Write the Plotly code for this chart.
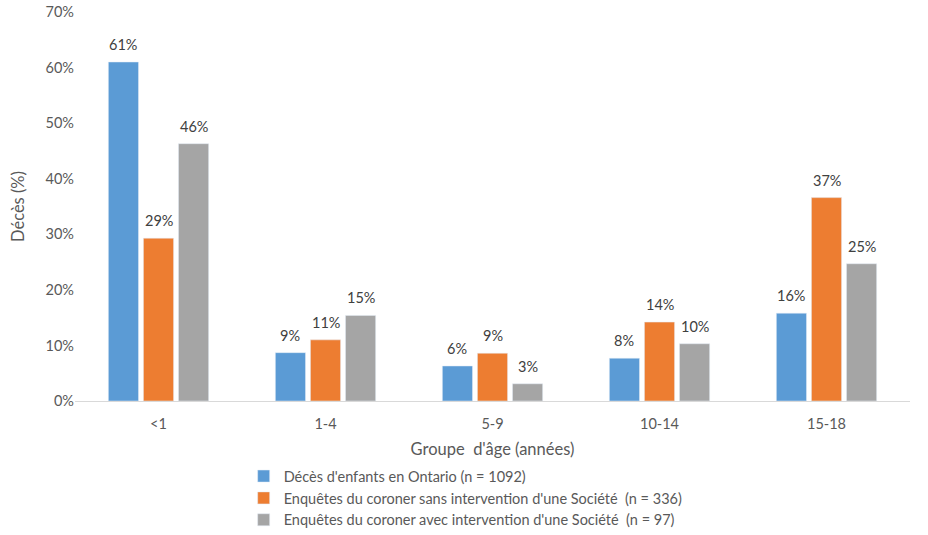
import plotly.graph_objects as go

categories = ["<1", "1-4", "5-9", "10-14", "15-18"]
series_names = [
    "Décès d'enfants en Ontario (n = 1092)",
    "Enquêtes du coroner sans intervention d'une Société  (n = 336)",
    "Enquêtes du coroner avec intervention d'une Société  (n = 97)",
]
ontario = [61.0, 8.7, 6.3, 7.7, 15.8]
sans_societe = [29.3, 11.0, 8.6, 14.2, 36.6]
avec_societe = [46.3, 15.4, 3.1, 10.3, 24.7]
colors = ["#5B9BD5", "#ED7D31", "#A5A5A5"]
y_ticks = [0, 10, 20, 30, 40, 50, 60, 70]

font = "Lato, 'Open Sans', sans-serif"
W, H = 928, 535
ML, MR, MT, MB = 75, 18, 12, 134
BARGAP = 0.37
cat_px = (W - ML - MR) / len(categories)
slot_px = (1 - BARGAP) * cat_px / 3

fig = go.Figure()
annotations = []
for i, (name, vals, col) in enumerate(zip(series_names, [ontario, sans_societe, avec_societe], colors)):
    fig.add_trace(go.Bar(x=categories, y=vals, name=name, marker_color=col))
    for c, v in zip(categories, vals):
        annotations.append(dict(
            x=c, y=v, xref="x", yref="y", text=f"{v:.0f}%", showarrow=False,
            xshift=(i - 1) * slot_px, yshift=7, yanchor="bottom",
            font=dict(size=14.5, color="#404040", family=font),
        ))

fig.update_layout(
    width=W, height=H,
    margin=dict(l=ML, r=MR, t=MT, b=MB, autoexpand=False),
    paper_bgcolor="white", plot_bgcolor="white",
    barmode="group", bargap=BARGAP, bargroupgap=0.14,
    font=dict(family=font, size=14.5, color="#595959"),
    showlegend=True,
    legend=dict(orientation="v", x=0.202, y=-0.152, xanchor="left", yanchor="top",
                font=dict(size=14.5, color="#595959"), tracegroupgap=0,
                itemwidth=30),
    annotations=annotations,
)
fig.update_yaxes(
    range=[0, 70], tickvals=y_ticks, ticktext=[f"{t}%" for t in y_ticks],
    showgrid=False, zeroline=False, showline=False, automargin=False,
    title=dict(text="Décès (%)", font=dict(size=16.5, color="#595959"), standoff=16),
    tickfont=dict(size=14.5, color="#595959"), ticks="", ticklen=0,
)
fig.update_xaxes(
    showgrid=False, showline=True, linecolor="#D9D9D9", linewidth=1, automargin=False,
    tickfont=dict(size=14.5, color="#595959"), ticks="", ticklabelstandoff=10,
    title=dict(text="Groupe  d'âge (années)", font=dict(size=16.5, color="#595959"), standoff=12),
)
fig.write_html("out.html", config={"displayModeBar": False},
               post_script="document.body.style.margin='0';")
